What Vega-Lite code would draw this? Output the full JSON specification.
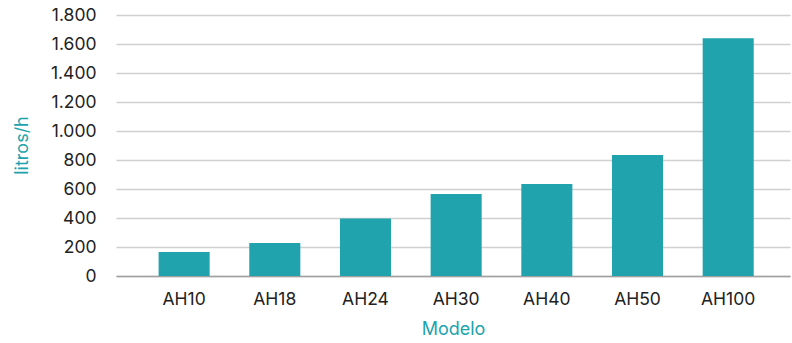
{
  "$schema": "https://vega.github.io/schema/vega-lite/v6.json",
  "autosize": {"type": "none"},
  "padding": {"left": 116, "top": 15, "right": 2, "bottom": 67},
  "width": 674,
  "height": 261,
  "background": "white",
  "data": {
    "values": [
      {"Modelo": "AH10", "litros": 165},
      {"Modelo": "AH18", "litros": 227},
      {"Modelo": "AH24", "litros": 396},
      {"Modelo": "AH30", "litros": 565},
      {"Modelo": "AH40", "litros": 634},
      {"Modelo": "AH50", "litros": 834},
      {"Modelo": "AH100", "litros": 1640}
    ]
  },
  "mark": {"type": "bar", "color": "#21A3AD"},
  "encoding": {
    "x": {
      "field": "Modelo",
      "type": "nominal",
      "sort": null,
      "scale": {"paddingInner": 0.437, "paddingOuter": 0.435, "align": 0.54},
      "axis": {
        "title": "Modelo",
        "labelAngle": 0,
        "labelFont": "Inter",
        "labelFontSize": 17.5,
        "labelColor": "#222222",
        "labelPadding": 14,
        "ticks": false,
        "domainColor": "#a0a0a0",
        "domainWidth": 1.5,
        "titleFont": "Inter",
        "titleFontSize": 18,
        "titleFontWeight": "normal",
        "titleColor": "#21A3AD",
        "titlePadding": 13
      }
    },
    "y": {
      "field": "litros",
      "type": "quantitative",
      "scale": {"domain": [0, 1800], "nice": false},
      "axis": {
        "title": "litros/h",
        "values": [0, 200, 400, 600, 800, 1000, 1200, 1400, 1600, 1800],
        "labelExpr": "replace(format(datum.value, ','), ',', '.')",
        "labelFont": "Inter",
        "labelFontSize": 17.5,
        "labelColor": "#222222",
        "labelPadding": 20,
        "ticks": false,
        "domain": false,
        "gridColor": "#d0d0d0",
        "gridWidth": 1.5,
        "titleFont": "Inter",
        "titleFontSize": 18,
        "titleFontWeight": "normal",
        "titleColor": "#21A3AD",
        "titleX": -94,
        "titleY": 130,
        "titleAlign": "center",
        "titleBaseline": "middle",
        "titleAngle": -90
      }
    }
  },
  "config": {"view": {"stroke": null}}
}
